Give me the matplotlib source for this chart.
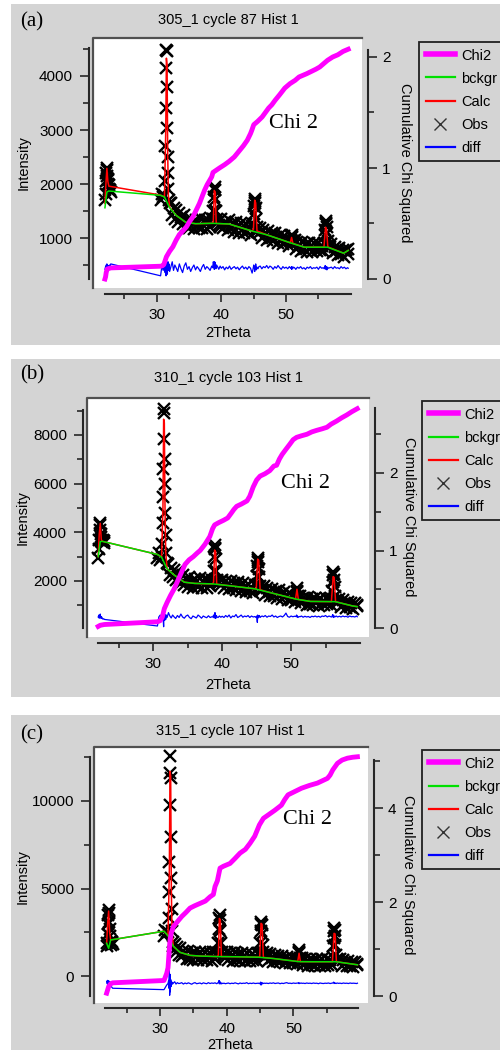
import matplotlib
matplotlib.use("Agg")
import matplotlib.pyplot as plt
from matplotlib.lines import Line2D
from matplotlib.patches import Rectangle

plt.rcParams["font.family"] = ["Liberation Sans", "DejaVu Sans"]
plt.rcParams["font.size"] = 10.5

###############################################################################
# Data
###############################################################################

# 2Theta of the observed points (same scan for all three samples)
two_theta = [
    22.0, 22.1, 22.15, 22.2, 22.25, 22.3, 22.35, 22.4, 22.45, 22.5, 22.6, 22.7, 22.8, 22.9,
    30.6, 30.8, 31.0, 31.2, 31.3, 31.35, 31.4, 31.45, 31.5, 31.55, 31.6, 31.65, 31.7, 31.75, 31.8, 31.9, 32.0, 32.2, 32.4, 32.6, 32.8,
    33.0, 33.25, 33.5, 33.75, 34.0, 34.25, 34.5, 34.75, 35.0, 35.25, 35.5, 35.75, 36.0, 36.25, 36.5, 36.75, 37.0, 37.25, 37.5, 37.75, 38.0, 38.25, 38.5,
    38.65, 38.75, 38.85, 38.9, 38.95, 39.0, 39.05, 39.15, 39.25, 39.4, 39.6, 39.8,
    40.0, 40.25, 40.5, 40.75, 41.0, 41.25, 41.5, 41.75, 42.0, 42.25, 42.5, 42.75, 43.0, 43.25, 43.5, 43.75, 44.0, 44.25, 44.5, 44.75,
    44.9, 45.0, 45.1, 45.15, 45.2, 45.25, 45.3, 45.4, 45.5, 45.65, 45.8,
    46.0, 46.25, 46.5, 46.75, 47.0, 47.25, 47.5, 47.75, 48.0, 48.25, 48.5, 48.75, 49.0, 49.25, 49.5, 49.75, 50.0, 50.25, 50.5,
    50.7, 50.8, 50.85, 50.9, 51.0, 51.15,
    51.3, 51.5, 51.75, 52.0, 52.25, 52.5, 52.75, 53.0, 53.25, 53.5, 53.75, 54.0, 54.25, 54.5, 54.75, 55.0, 55.25, 55.5, 55.75,
    55.9, 56.0, 56.05, 56.1, 56.15, 56.2, 56.25, 56.3, 56.4, 56.55, 56.75,
    57.0, 57.25, 57.5, 57.75, 58.0, 58.25, 58.5, 58.75, 59.0, 59.25, 59.5, 59.6,
]

# Observed intensities
obs_a = [
    1700, 1820, 2050, 2200, 2300, 2260, 2150, 2080, 2000, 2100, 1980, 1900, 1880, 1850,
    1700, 1820, 1760, 1800, 2050, 2700, 3400, 4140, 4480, 4460, 3790, 3030, 2500, 2200, 1900, 1700, 1650, 1640, 1420, 1560, 1360,
    1520, 1300, 1470, 1380, 1250, 1420, 1230, 1330, 1190, 1360, 1280, 1170, 1330, 1250, 1190, 1370, 1180, 1300, 1340, 1160, 1330, 1210, 1350,
    1350, 1500, 1750, 1900, 1950, 1880, 1700, 1500, 1350, 1300, 1240, 1210,
    1350, 1180, 1300, 1240, 1140, 1330, 1190, 1280, 1120, 1300, 1200, 1100, 1280, 1150, 1090, 1260, 1120, 1200, 1060, 1220,
    1250, 1450, 1600, 1680, 1720, 1650, 1550, 1350, 1200, 1150, 1100,
    1180, 1000, 1150, 1060, 960, 1130, 1000, 1090, 940, 1100, 1010, 900, 1060, 960, 880, 1030, 920, 990, 850,
    960, 1030, 1060, 1020, 950, 920,
    960, 800, 930, 860, 760, 920, 800, 880, 740, 900, 830, 750, 910, 800, 760, 900, 780, 850, 760,
    900, 1050, 1150, 1250, 1320, 1280, 1200, 1100, 950, 870, 830,
    880, 720, 840, 760, 680, 820, 700, 770, 640, 780, 700, 800,
]
obs_b = [
    2950, 3300, 3700, 4100, 4400, 4300, 3950, 3700, 3800, 3650, 3600, 3700, 3550, 3650,
    2950, 3150, 2850, 3000, 3500, 4400, 5450, 6600, 7850, 9050, 8900, 7000, 6000, 4800, 3900, 3150, 2750, 2700, 2250, 2550, 2150,
    2450, 2050, 2350, 2150, 1900, 2250, 1850, 2100, 1750, 2150, 1950, 1720, 2100, 1950, 1750, 2120, 1720, 1950, 2080, 1700, 2050, 1780, 2020,
    2000, 2400, 3000, 3350, 3480, 3300, 2900, 2400, 2050, 1950, 1900, 1850,
    2050, 1700, 1980, 1850, 1650, 2000, 1700, 1900, 1620, 1950, 1780, 1580, 1900, 1700, 1560, 1880, 1580, 1760, 1520, 1820,
    1850, 2200, 2600, 2850, 2930, 2800, 2500, 2150, 1800, 1650, 1620,
    1780, 1420, 1720, 1560, 1380, 1680, 1380, 1600, 1300, 1620, 1450, 1260, 1560, 1380, 1200, 1500, 1220, 1400, 1150,
    1350, 1550, 1700, 1600, 1400, 1250,
    1380, 1080, 1320, 1200, 1020, 1330, 1050, 1260, 1000, 1300, 1150, 980, 1300, 1100, 1000, 1320, 1040, 1250, 1020,
    1250, 1600, 1950, 2250, 2380, 2300, 2050, 1750, 1400, 1200, 1120,
    1250, 950, 1200, 1060, 900, 1150, 920, 1080, 860, 1100, 960, 1020,
]
obs_c = [
    1700, 1900, 2400, 3000, 3500, 3750, 3600, 3100, 2700, 2300, 2000, 1800, 1950, 1850,
    2300, 2650, 2500, 2500, 3300, 4800, 6500, 9800, 11600, 12550, 11300, 7950, 5600, 3850, 2550, 1950, 1700, 1850, 1350, 1650, 1200,
    1600, 1150, 1450, 1300, 1000, 1420, 980, 1300, 900, 1380, 1150, 900, 1350, 1150, 900, 1380, 920, 1200, 1300, 880, 1350, 950, 1300,
    1300, 1900, 2700, 3300, 3480, 3200, 2600, 1900, 1400, 1200, 1150, 1050,
    1350, 900, 1300, 1120, 880, 1350, 920, 1250, 850, 1320, 1100, 870, 1300, 1000, 850, 1280, 900, 1150, 830, 1250,
    1300, 1900, 2600, 3000, 3100, 2900, 2400, 1800, 1350, 1150, 1080,
    1300, 880, 1230, 1050, 820, 1220, 850, 1150, 780, 1170, 960, 760, 1100, 900, 720, 1080, 760, 950, 700,
    1000, 1300, 1480, 1350, 1050, 900,
    1050, 650, 980, 800, 600, 1000, 650, 900, 580, 980, 780, 600, 1000, 700, 600, 1000, 620, 900, 640,
    1100, 1700, 2200, 2600, 2760, 2650, 2300, 1800, 1200, 950, 900,
    950, 600, 900, 720, 560, 880, 600, 780, 520, 820, 620, 700,
]

# Difference curve (Obs - Calc, plotted with GSAS offset)
diff_a = [
    420, 470, 380, 500, 440, 520, 400, 470, 430, 490, 450, 500, 470, 520,
    300, 480, 400, 520, 360, 560, 420, 300, 500, 380, 550, 330, 470, 560, 400, 520, 380, 470, 560, 400, 500,
    450, 380, 520, 430, 360, 480, 540, 420, 470, 380, 450, 500, 410, 470, 430, 380, 460, 510, 420, 470, 440, 400, 480,
    450, 560, 500, 420, 560, 470, 540, 430, 500, 470, 420, 480,
    440, 470, 410, 460, 430, 480, 420, 450, 470, 430, 460, 410, 450, 480, 430, 460, 420, 470, 440, 350,
    430, 500, 460, 380, 470, 440, 520, 410, 460, 430, 470,
    480, 430, 470, 450, 490, 440, 480, 460, 420, 470, 440, 490, 450, 420, 470, 440, 460, 430, 470,
    440, 460, 420, 470, 430, 460,
    450, 420, 460, 440, 470, 430, 450, 420, 460, 440, 470, 430, 450, 440, 460, 420, 470, 440, 450,
    430, 470, 490, 440, 420, 470, 450, 410, 460, 440, 450,
    460, 430, 470, 440, 450, 430, 470, 440, 460, 430, 450, 440,
]
diff_b = [
    520, 600, 470, 560, 500, 640, 480, 540, 470, 520, 460, 430, 450, 420,
    150, 520, 600, 480, 640, 400, 700, 350, 120, 680, 500, 380, 620, 540, 420, 600, 500, 700, 560, 480, 600,
    530, 460, 580, 500, 640, 520, 470, 560, 600, 500, 450, 560, 520, 480, 600, 540, 470, 560, 520, 490, 570, 500, 530,
    520, 600, 480, 560, 700, 540, 460, 580, 520, 500, 560, 510,
    550, 500, 580, 520, 600, 480, 560, 530, 620, 500, 540, 600, 510, 560, 530, 580, 500, 560, 520, 540,
    500, 560, 300, 600, 480, 560, 520, 580, 500, 540, 560,
    530, 580, 510, 560, 540, 600, 520, 560, 500, 540, 560, 520, 580, 680, 540, 510, 560, 530, 550,
    540, 600, 520, 560, 500, 540,
    530, 560, 510, 550, 520, 540, 500, 550, 530, 560, 520, 550, 510, 560, 540, 580, 520, 560, 530,
    520, 580, 620, 540, 500, 560, 520, 550, 530, 560, 520,
    550, 520, 560, 530, 550, 510, 560, 530, 540, 520, 560, 530,
]
diff_c = [
    -300, -450, -250, -500, -280, -420, -350, -480, -300, -450, -380, -600, -650, -700,
    -780, -650, -520, -430, -250, -700, 400, -1100, 100, -900, -200, -600, -300, -480, -350, -450, -400, -330, -460, -380, -430,
    -420, -380, -460, -400, -440, -390, -430, -470, -410, -380, -440, -420, -400, -450, -390, -420, -440, -380, -430, -400, -420, -390, -440,
    -400, -360, -260, -450, -300, -420, -380, -460, -400, -430, -410, -440,
    -420, -400, -440, -410, -430, -390, -420, -450, -400, -430, -410, -420, -380, -440, -410, -430, -400, -430, -420, -410,
    -440, -400, -350, -520, -420, -380, -460, -400, -430, -410, -420,
    -410, -430, -400, -420, -390, -430, -410, -400, -440, -410, -430, -400, -380, -420, -410, -430, -400, -420, -410,
    -400, -380, -440, -410, -420, -400,
    -420, -410, -430, -400, -420, -410, -430, -400, -420, -410, -440, -400, -420, -430, -410, -420, -400, -430, -410,
    -400, -370, -350, -430, -410, -400, -420, -410, -430, -400, -420,
    -410, -430, -400, -420, -410, -430, -400, -420, -410, -420, -430, -410,
]

# Calculated profile (vertices of the red polyline)
calc_tt = [22.0, 22.15, 22.3, 22.45, 22.6, 30.6, 31.2, 31.4, 31.5, 31.6, 31.7, 31.8, 32.0,
           33.0, 34.5, 36.0, 38.6, 38.75, 38.9, 39.05, 39.2, 41.2, 44.7, 44.95, 45.15,
           45.3, 45.5, 47.0, 50.65, 50.85, 51.05, 52.8, 55.85, 56.1, 56.25, 56.45, 58.9, 59.6]
calc_a = [1640, 2000, 2290, 2050, 1960, 1795, 1760, 3000, 4330, 4200, 2600, 1800, 1570,
          1420, 1290, 1265, 1272, 1300, 1880, 1850, 1270, 1259, 1130, 1160, 1700,
          1650, 1130, 1060, 912, 1010, 900, 830, 830, 1200, 1150, 835, 718, 770]
calc_b = [3000, 3900, 4370, 3700, 3630, 3090, 2980, 5000, 8650, 8500, 5000, 3200, 2500,
          2250, 1950, 1900, 1880, 1950, 3270, 3200, 1870, 1800, 1680, 1700, 2900,
          2850, 1640, 1520, 1260, 1660, 1240, 1160, 1150, 2180, 2150, 1150, 975, 945]
calc_c = [1870, 3000, 3710, 2500, 2060, 2560, 2300, 6000, 11700, 11400, 5000, 2500, 1700,
          1350, 1180, 1140, 1110, 1200, 3290, 3200, 1110, 1100, 1075, 1100, 3010,
          2950, 1060, 1000, 830, 1300, 820, 815, 815, 2440, 2400, 815, 680, 640]

# Background (vertices of the green polyline)
bckgr_tt = [22.0, 22.3, 22.6, 30.6, 31.2, 32.0, 33.0, 34.5, 36.0, 38.6, 41.2, 44.7, 47.0, 50.8, 52.8, 56.4, 58.9, 59.6]
bckgr_a = [1560, 1850, 1870, 1790, 1760, 1560, 1420, 1290, 1265, 1272, 1259, 1130, 1060, 905, 830, 830, 718, 770]
bckgr_b = [3000, 3620, 3630, 3090, 2980, 2500, 2250, 1950, 1900, 1880, 1800, 1680, 1520, 1250, 1160, 1150, 975, 945]
bckgr_c = [1870, 1580, 2060, 2560, 2300, 1700, 1350, 1180, 1140, 1110, 1100, 1075, 1000, 820, 815, 815, 680, 640]

# Cumulative chi squared
chi_tt_a = [22.0, 22.1, 22.2, 22.35, 22.9, 30.6, 30.9, 31.1, 31.5, 32.0, 32.5, 33.0, 33.5, 34.0, 34.6,
            35.1, 35.6, 36.1, 36.6, 37.0, 37.4, 37.8, 38.2, 38.5, 38.7, 39.2, 39.7, 40.5, 41.2, 42.0,
            42.7, 43.4, 44.0, 44.5, 44.7, 45.0, 45.6, 46.3, 46.8, 47.3, 47.8, 48.3, 49.0, 49.8, 50.6,
            51.4, 52.0, 52.4, 53.2, 53.9, 54.6, 55.2, 55.8, 56.4, 57.2, 58.0, 58.8, 59.6]
chi_a = [0.00, 0.02, 0.06, 0.09, 0.10, 0.115, 0.12, 0.13, 0.20, 0.25, 0.29, 0.35, 0.40, 0.43, 0.47,
         0.52, 0.56, 0.62, 0.68, 0.74, 0.80, 0.85, 0.89, 0.92, 0.96, 0.98, 1.00, 1.03, 1.06, 1.10,
         1.15, 1.20, 1.25, 1.31, 1.34, 1.39, 1.42, 1.46, 1.50, 1.54, 1.57, 1.61, 1.66, 1.72, 1.76,
         1.79, 1.82, 1.83, 1.85, 1.87, 1.89, 1.91, 1.94, 1.97, 2.00, 2.02, 2.05, 2.07]
chi_tt_b = [22.0, 22.3, 22.9, 30.6, 31.0, 31.3, 31.6, 32.0, 32.5, 33.0, 33.4, 34.0, 34.6, 35.2, 35.8,
            36.4, 36.8, 37.5, 38.2, 38.6, 38.9, 39.5, 40.2, 40.8, 41.3, 41.7, 42.1, 42.8, 43.6, 44.0,
            44.5, 45.0, 45.5, 46.2, 46.9, 47.5, 47.9, 48.3, 48.7, 49.2, 49.8, 50.3, 50.8, 51.5, 52.3,
            53.0, 53.7, 54.5, 55.2, 55.8, 56.6, 57.3, 58.1, 58.8, 59.6]
chi_b = [0.02, 0.035, 0.045, 0.08, 0.095, 0.14, 0.25, 0.33, 0.42, 0.50, 0.58, 0.70, 0.82, 0.88, 0.92,
         0.97, 1.00, 1.08, 1.18, 1.28, 1.33, 1.36, 1.39, 1.42, 1.48, 1.53, 1.57, 1.60, 1.64, 1.70,
         1.82, 1.91, 1.96, 1.99, 2.03, 2.09, 2.10, 2.18, 2.24, 2.30, 2.37, 2.43, 2.46, 2.48, 2.50,
         2.53, 2.55, 2.57, 2.59, 2.63, 2.67, 2.71, 2.75, 2.79, 2.83]
chi_tt_c = [22.0, 22.3, 22.6, 22.9, 30.6, 31.0, 31.2, 31.35, 31.5, 31.7, 32.0, 32.6, 33.25, 33.9, 34.5,
            35.2, 36.0, 36.8, 37.5, 38.0, 38.25, 38.6, 39.0, 39.5, 40.5, 41.2, 42.0, 42.8, 43.5, 44.2,
            44.9, 45.5, 46.2, 47.2, 48.2, 48.7, 49.2, 50.2, 51.2, 52.4, 53.6, 55.1, 55.5, 55.9, 56.6,
            57.3, 58.1, 58.9, 59.6]
chi_c = [0.06, 0.20, 0.26, 0.28, 0.33, 0.48, 0.60, 0.90, 1.19, 1.35, 1.47, 1.58, 1.69, 1.78, 1.87,
         1.92, 1.97, 2.02, 2.11, 2.16, 2.33, 2.45, 2.72, 2.76, 2.82, 2.92, 3.04, 3.12, 3.25, 3.40,
         3.64, 3.78, 3.85, 3.95, 4.06, 4.18, 4.28, 4.35, 4.42, 4.48, 4.53, 4.63, 4.70, 4.81, 4.95,
         5.02, 5.06, 5.08, 5.09]

titles = ["305_1 cycle 87 Hist 1", "310_1 cycle 103 Hist 1", "315_1 cycle 107 Hist 1"]
tags = ["(a)", "(b)", "(c)"]
legend_labels = ["Chi2", "bckgr", "Calc", "Obs", "diff"]

###############################################################################
# Layout (pixel positions measured on the 500x1050 picture)
###############################################################################

W, H = 500, 1050
GRAY = "#d4d4d4"
INK = "#262626"

layouts = [
    dict(gray=(11, 4, 500, 345), box=(93, 38, 362, 288),
         x=(156.7, 30, 6.47), yl=(76, 4000, 0.054), yr=(279, 0, 111.0),
         lspine=89, rspine=368, bspine=294,
         xb=(22.0, 60.0), lb=(240, 4520), rb=(0, 2.06),
         lmaj=[1000, 2000, 3000, 4000], lmin=[500, 1500, 2500, 3500, 4500],
         rmaj=[0, 1, 2], rmin=[0.5, 1.5],
         title=(228, 20), tag=(20, 22), ylab=(24, 163), rlab=(405, 163),
         xlab=(228, 333), chi=(269, 123), leg=(419, 42)),
    dict(gray=(11, 359, 500, 697), box=(87, 398, 369, 637),
         x=(153.3, 30, 6.89), yl=(435, 8000, 0.02433), yr=(628, 0, 77.5),
         lspine=83, rspine=375, bspine=643,
         xb=(22.0, 60.0), lb=(70, 9030), rb=(0, 2.84),
         lmaj=[2000, 4000, 6000, 8000], lmin=[1000, 3000, 5000, 7000, 9000],
         rmaj=[0, 1, 2], rmin=[0.5, 1.5, 2.5],
         title=(228, 378), tag=(20, 375), ylab=(23, 518), rlab=(409, 517),
         xlab=(228, 685), chi=(281, 483), leg=(422, 401)),
    dict(gray=(11, 715, 500, 1050), box=(94, 747, 368, 1003),
         x=(160, 30, 6.67), yl=(976, 0, 0.0175), yr=(996, 0, 47.0),
         lspine=90, rspine=374, bspine=1008,
         xb=(21.7, 59.7), lb=(-1150, 12520), rb=(0, 5.02),
         lmaj=[0, 5000, 10000], lmin=[2500, 7500, 12500],
         rmaj=[0, 2, 4], rmin=[1, 3, 5],
         title=(230, 731), tag=(20, 735), ylab=(23, 877), rlab=(408, 875),
         xlab=(230, 1045), chi=(283, 820), leg=(422, 750)),
]


def fx(px):
    return px / W


def fy(py):
    return 1 - py / H


def draw_panel(fig, lay, title, tag, obs, diff, calc, bckgr, chi_tt, chi):
    g0, g1, g2, g3 = lay["gray"]
    fig.add_artist(Rectangle((fx(g0), fy(g3)), (g2 - g0) / W, (g3 - g1) / H,
                             transform=fig.transFigure, facecolor=GRAY,
                             edgecolor="none", zorder=-10))
    x0, y0, x1, y1 = lay["box"]
    ax = fig.add_axes([fx(x0), fy(y1), (x1 - x0) / W, (y1 - y0) / H])
    ax.set_facecolor("white")

    # Limits so that the measured pixel positions line up
    xp, xv, xs = lay["x"]
    ax.set_xlim(xv + (x0 - xp) / xs, xv + (x1 - xp) / xs)
    lp, lv, ls = lay["yl"]
    ax.set_ylim(lv + (lp - y1) / ls, lv + (lp - y0) / ls)

    # Data
    ax.plot(two_theta, obs, ls="none", marker="x", ms=8, mew=1.7,
            color="#000000", zorder=2)
    ax.plot(calc_tt, calc, color="#ff0000", lw=1.1, zorder=3)
    ax.plot(bckgr_tt, bckgr, color="#00e000", lw=1.1, zorder=4)
    ax.plot(two_theta, diff, color="#0000ff", lw=0.9, zorder=3)

    # Detached axes, Igor style
    for s in ["top", "right"]:
        ax.spines[s].set_visible(False)
    for s in ["left", "bottom"]:
        ax.spines[s].set_color(INK)
        ax.spines[s].set_linewidth(1.5)
    ax.spines["left"].set_position(("outward", (x0 - lay["lspine"]) * 0.72))
    ax.spines["left"].set_bounds(*lay["lb"])
    ax.spines["bottom"].set_position(("outward", (lay["bspine"] - y1) * 0.72))
    ax.spines["bottom"].set_bounds(*lay["xb"])
    ax.set_xticks([30, 40, 50])
    ax.set_xticks([25, 35, 45, 55], minor=True)
    ax.set_yticks(lay["lmaj"])
    ax.set_yticks(lay["lmin"], minor=True)
    ax.tick_params(axis="x", which="major", length=5.5, width=1.2, pad=4.5,
                   color=INK, labelsize=11)
    ax.tick_params(axis="x", which="minor", length=3.8, width=1.2, color=INK)
    ax.tick_params(axis="y", which="major", length=6.5, width=1.2, pad=5,
                   color=INK, labelsize=11)
    ax.tick_params(axis="y", which="minor", length=4.3, width=1.2, color=INK)

    ax2 = ax.twinx()
    rp, rv, rs = lay["yr"]
    ax2.set_ylim(rv + (rp - y1) / rs, rv + (rp - y0) / rs)
    ax2.plot(chi_tt, chi, color="#ff00ff", lw=3.5, solid_joinstyle="round")
    for s in ["top", "left", "bottom"]:
        ax2.spines[s].set_visible(False)
    ax2.spines["right"].set_color(INK)
    ax2.spines["right"].set_linewidth(1.5)
    ax2.spines["right"].set_position(("outward", (lay["rspine"] - x1) * 0.72))
    ax2.spines["right"].set_bounds(*lay["rb"])
    ax2.set_yticks(lay["rmaj"])
    ax2.set_yticks(lay["rmin"], minor=True)
    ax2.tick_params(axis="y", which="major", length=6.5, width=1.2, pad=3.6,
                    color=INK, labelsize=11)
    ax2.tick_params(axis="y", which="minor", length=4.3, width=1.2, color=INK)

    # Sunken border of the plot area
    fig.add_artist(Line2D([fx(x0), fx(x0), fx(x1)], [fy(y1), fy(y0), fy(y0)],
                          transform=fig.transFigure, color="#505050", lw=1.6, zorder=5))

    # Texts
    fig.text(fx(lay["title"][0]), fy(lay["title"][1]), title, ha="center", va="center")
    fig.text(fx(lay["tag"][0]), fy(lay["tag"][1]), tag, ha="left", va="center",
             family="Liberation Serif", fontsize=15)
    fig.text(fx(lay["ylab"][0]), fy(lay["ylab"][1]), "Intensity", rotation=90,
             ha="center", va="center")
    fig.text(fx(lay["rlab"][0]), fy(lay["rlab"][1]), "Cumulative Chi Squared",
             rotation=270, ha="center", va="center")
    fig.text(fx(lay["xlab"][0]), fy(lay["xlab"][1]), "2Theta", ha="center", va="center")
    fig.text(fx(lay["chi"][0]), fy(lay["chi"][1]), "Chi 2", ha="left", va="center",
             family="Liberation Serif", fontsize=16)

    handles = [
        Line2D([], [], color="#ff00ff", lw=4),
        Line2D([], [], color="#00e000", lw=1.6),
        Line2D([], [], color="#ff0000", lw=1.6),
        Line2D([], [], ls="none", marker="x", ms=8, mew=1, color="#333333"),
        Line2D([], [], color="#0000ff", lw=1.6),
    ]
    leg = fig.legend(handles, legend_labels, loc="upper left",
                     bbox_to_anchor=(fx(lay["leg"][0]), fy(lay["leg"][1])),
                     bbox_transform=fig.transFigure, frameon=True, fancybox=False,
                     edgecolor="#202020", facecolor=GRAY, framealpha=1,
                     borderpad=0.45, handlelength=2.0, handletextpad=0.45,
                     labelspacing=0.62, borderaxespad=0)
    leg.get_frame().set_linewidth(1.3)


fig = plt.figure(figsize=(5, 10.5), dpi=100, facecolor="white")

panels = [
    (obs_a, diff_a, calc_a, bckgr_a, chi_tt_a, chi_a),
    (obs_b, diff_b, calc_b, bckgr_b, chi_tt_b, chi_b),
    (obs_c, diff_c, calc_c, bckgr_c, chi_tt_c, chi_c),
]
for lay, title, tag, p in zip(layouts, titles, tags, panels):
    draw_panel(fig, lay, title, tag, *p)

fig.savefig("out.png", dpi=100, facecolor="white")
